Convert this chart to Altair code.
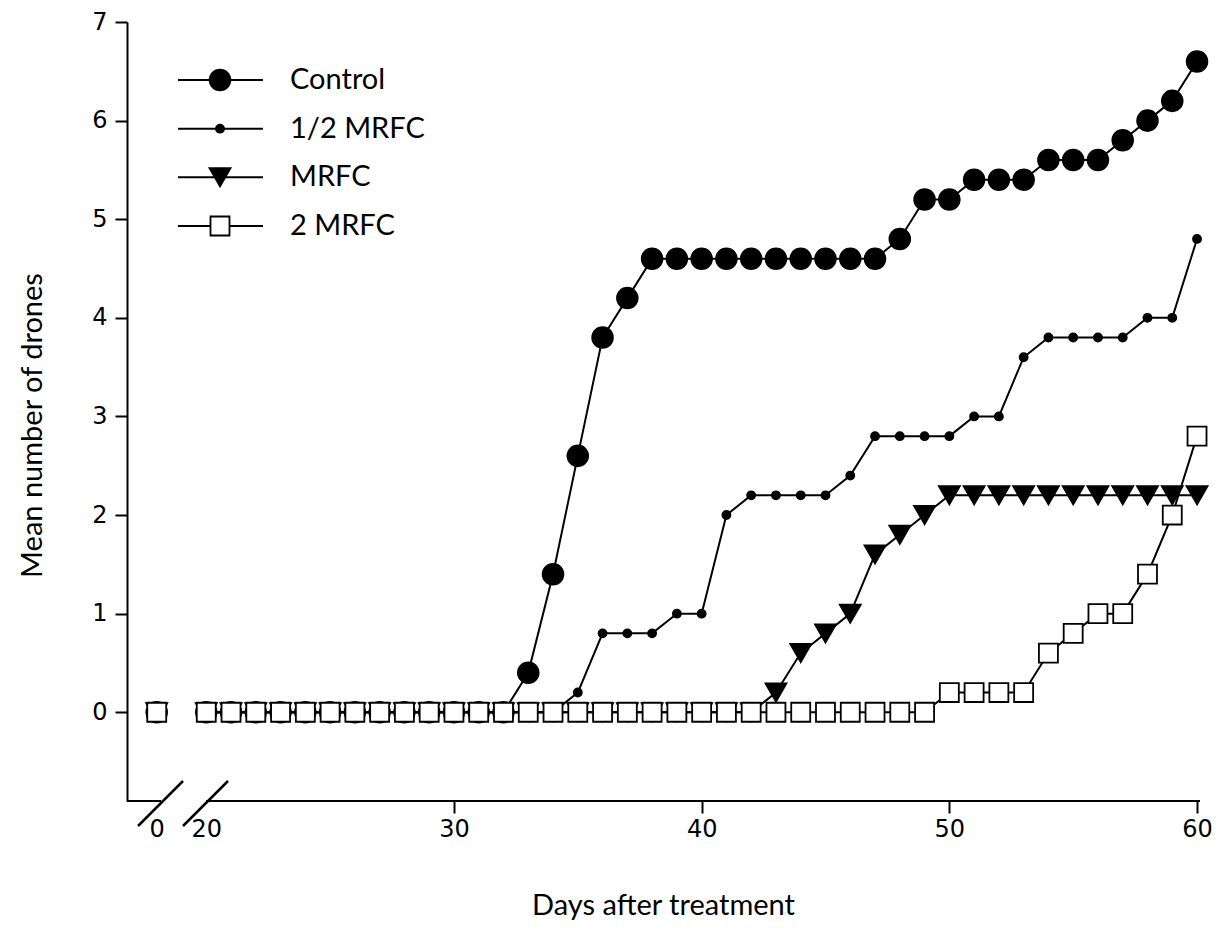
import altair as alt
import pandas as pd

# ---------------- data ----------------
days = [0, 20, 21, 22, 23, 24, 25, 26, 27, 28, 29, 30, 31, 32, 33, 34, 35, 36, 37, 38, 39,
        40, 41, 42, 43, 44, 45, 46, 47, 48, 49, 50, 51, 52, 53, 54, 55, 56, 57, 58, 59, 60]

series_names = ["Control", "1/2 MRFC", "MRFC", "2 MRFC"]

control = [0,
           0, 0, 0, 0, 0, 0, 0, 0, 0, 0, 0, 0, 0,
           0.4, 1.4, 2.6, 3.8, 4.2,
           4.6, 4.6, 4.6, 4.6, 4.6, 4.6, 4.6, 4.6, 4.6, 4.6,
           4.8, 5.2, 5.2, 5.4, 5.4, 5.4, 5.6, 5.6, 5.6, 5.8, 6.0, 6.2, 6.6]

half_mrfc = [0,
             0, 0, 0, 0, 0, 0, 0, 0, 0, 0, 0, 0, 0, 0, 0,
             0.2, 0.8, 0.8, 0.8, 1.0, 1.0, 2.0, 2.2, 2.2, 2.2, 2.2, 2.4, 2.8,
             2.8, 2.8, 2.8, 3.0, 3.0, 3.6, 3.8, 3.8, 3.8, 3.8, 4.0, 4.0, 4.8]

mrfc = [0,
        0, 0, 0, 0, 0, 0, 0, 0, 0, 0, 0, 0, 0, 0, 0, 0, 0, 0, 0, 0, 0, 0, 0,
        0.2, 0.6, 0.8, 1.0, 1.6, 1.8, 2.0,
        2.2, 2.2, 2.2, 2.2, 2.2, 2.2, 2.2, 2.2, 2.2, 2.2, 2.2]

two_mrfc = [0,
            0, 0, 0, 0, 0, 0, 0, 0, 0, 0, 0, 0, 0, 0, 0, 0, 0, 0, 0, 0,
            0, 0, 0, 0, 0, 0, 0, 0, 0, 0,
            0.2, 0.2, 0.2, 0.2, 0.6, 0.8, 1.0, 1.0, 1.4, 2.0, 2.8]

x_tick_values = [18, 20, 30, 40, 50, 60]   # 18 = where day 0 sits, left of the axis break
y_tick_values = [0, 1, 2, 3, 4, 5, 6, 7]

rows = []
for name, vals in zip(series_names, [control, half_mrfc, mrfc, two_mrfc]):
    for d, v in zip(days, vals):
        rows.append({"series": name, "day": d, "value": v})
df = pd.DataFrame(rows)
leg_df = pd.DataFrame({"series": series_names})
one = pd.DataFrame({"k": [0]})

# ---------------- styling ----------------
W, H = 1073, 779
TICK_FONT = "DejaVu Sans"
TEXT_FONT = "Lato"

xscale = alt.Scale(domain=[16.8, 60.12], nice=False, zero=False)
yscale = alt.Scale(domain=[-0.9, 7], nice=False, zero=False)

shape_scale = alt.Scale(domain=series_names, range=["circle", "circle", "triangle-down", "square"])
fill_scale = alt.Scale(domain=series_names, range=["black", "black", "black", "white"])
size_scale = alt.Scale(type="ordinal", domain=series_names, range=[430, 65, 440, 360])

x_axis = alt.Axis(
    values=x_tick_values,
    labelExpr="datum.value == 18 ? '0' : datum.label",
    domain=False, grid=False,
    tickSize=12, tickWidth=2,
    tickColor={"condition": {"test": "datum.value < 30", "value": "transparent"}, "value": "black"},
    labelFont=TICK_FONT, labelFontSize=24, labelColor="black", labelPadding=4,
    labelFlush=False,
    title="Days after treatment", titleFont=TEXT_FONT, titleFontSize=29,
    titleFontWeight="normal", titleColor="black",
    titleX=536, titleY=104, titleAlign="center", titleBaseline="middle",
)
y_axis = alt.Axis(
    values=y_tick_values, format="d", grid=False,
    domain=True, domainColor="black", domainWidth=2,
    tickSize=12, tickWidth=2, tickColor="black",
    labelFont=TICK_FONT, labelFontSize=24, labelColor="black", labelPadding=8,
    title="Mean number of drones", titleFont=TEXT_FONT, titleFontSize=29,
    titleFontWeight="normal", titleColor="black",
    titleAngle=270, titleX=-95, titleY=403, titleAlign="center", titleBaseline="middle",
)

base = alt.Chart(df).transform_calculate(
    pos="datum.day == 0 ? 18 : datum.day",
    seg="datum.series + (datum.day == 0 ? '_a' : '_b')",
)

lines = base.mark_line(color="black", strokeWidth=2).encode(
    x=alt.X("pos:Q", scale=xscale, axis=x_axis),
    y=alt.Y("value:Q", scale=yscale, axis=y_axis),
    detail="seg:N",
)

points = base.mark_point(stroke="black", strokeWidth=1.8, opacity=1).encode(
    x=alt.X("pos:Q", scale=xscale),
    y=alt.Y("value:Q", scale=yscale),
    shape=alt.Shape("series:N", scale=shape_scale, legend=None),
    fill=alt.Fill("series:N", scale=fill_scale, legend=None),
    size=alt.Size("series:N", scale=size_scale, legend=None),
)

main = alt.layer(lines, points)

# ---------------- legend (drawn inside plot) ----------------
leg_y = alt.Y("series:N", sort=series_names,
              scale=alt.Scale(type="point", range=[58, 204], padding=0), axis=None)

leg_lines = alt.Chart(leg_df).mark_rule(color="black", strokeWidth=2).encode(
    x=alt.value(51), x2=alt.value(136), y=leg_y)
leg_points = alt.Chart(leg_df).mark_point(stroke="black", strokeWidth=1.8, opacity=1).encode(
    x=alt.value(93), y=leg_y,
    shape=alt.Shape("series:N", scale=shape_scale, legend=None),
    fill=alt.Fill("series:N", scale=fill_scale, legend=None),
    size=alt.Size("series:N", scale=size_scale, legend=None),
)
leg_text = alt.Chart(leg_df).mark_text(
    align="left", baseline="middle", font=TEXT_FONT, fontSize=29, color="black"
).encode(x=alt.value(163), y=leg_y, text="series:N")

legend = alt.layer(leg_lines, leg_points, leg_text)

# ---------------- broken x axis line + break marks ----------------
axis_left = alt.Chart(one).mark_rule(color="black", strokeWidth=2).encode(
    x=alt.value(0), x2=alt.value(34), y=alt.value(H))
axis_right = alt.Chart(one).mark_rule(color="black", strokeWidth=2).encode(
    x=alt.value(79), x2=alt.value(W), y=alt.value(H))
slash1 = alt.Chart(one).mark_rule(color="black", strokeWidth=2.5).encode(
    x=alt.value(11), x2=alt.value(56), y=alt.value(H + 25), y2=alt.value(H - 20))
slash2 = alt.Chart(one).mark_rule(color="black", strokeWidth=2.5).encode(
    x=alt.value(56), x2=alt.value(101), y=alt.value(H + 25), y2=alt.value(H - 20))

decor = alt.layer(axis_left, axis_right, slash1, slash2)

chart = alt.layer(decor, main, legend).resolve_scale(y="independent").properties(
    width=W, height=H,
    padding={"left": 119, "top": 14, "right": 24, "bottom": 139},
    autosize=alt.AutoSizeParams(type="none"),
    background="white",
).configure_view(stroke=None)

chart.save("out.html", embed_options={"renderer": "svg", "actions": False})
